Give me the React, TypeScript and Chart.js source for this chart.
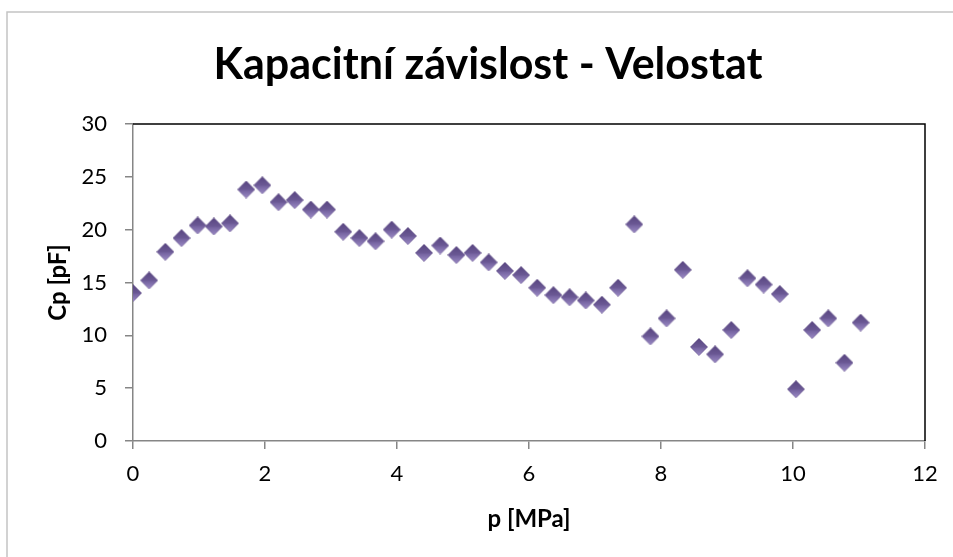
import { useEffect, useRef } from 'react';
import { Chart, registerables } from 'chart.js';

Chart.register(...registerables);

const TITLE = 'Kapacitní závislost - Velostat';
const X_TITLE = 'p [MPa]';
const Y_TITLE = 'Cp [pF]';

const pressure = [
  0, 0.245, 0.49, 0.735, 0.98, 1.225, 1.47, 1.715, 1.96, 2.205, 2.45, 2.695,
  2.94, 3.185, 3.43, 3.675, 3.92, 4.165, 4.41, 4.655, 4.9, 5.145, 5.39, 5.635,
  5.88, 6.125, 6.37, 6.615, 6.86, 7.105, 7.35, 7.595, 7.84, 8.085, 8.33, 8.575,
  8.82, 9.065, 9.31, 9.555, 9.8, 10.045, 10.29, 10.535, 10.78, 11.025,
];

const capacitance = [
  14.0, 15.2, 17.9, 19.2, 20.4, 20.3, 20.6, 23.8, 24.2, 22.6, 22.8, 21.9,
  21.9, 19.8, 19.2, 18.9, 20.0, 19.4, 17.8, 18.5, 17.6, 17.8, 16.9, 16.1,
  15.7, 14.5, 13.8, 13.6, 13.3, 12.9, 14.5, 20.5, 9.9, 11.6, 16.2, 8.9,
  8.2, 10.5, 15.4, 14.8, 13.9, 4.9, 10.5, 11.6, 7.4, 11.2,
];

const X_MIN = 0;
const X_MAX = 12;
const X_STEP = 2;
const Y_MIN = 0;
const Y_MAX = 30;
const Y_STEP = 5;

const W = 953;
const H = 557;

export default function App() {
  const ref = useRef<HTMLCanvasElement>(null);

  useEffect(() => {
    if (!ref.current) return;

    // diamond marker with purple gradient
    const S = 18;
    const marker = document.createElement('canvas');
    marker.width = S;
    marker.height = S;
    const m = marker.getContext('2d')!;
    const g = m.createLinearGradient(0, 0, 0, S);
    g.addColorStop(0, '#57447f');
    g.addColorStop(0.5, '#6b5995');
    g.addColorStop(0.56, '#7664a1');
    g.addColorStop(1, '#9d8dc7');
    m.beginPath();
    m.moveTo(S / 2, 0.3);
    m.lineTo(S - 0.3, S / 2);
    m.lineTo(S / 2, S - 0.3);
    m.lineTo(0.3, S / 2);
    m.closePath();
    m.fillStyle = g;
    m.fill();
    m.strokeStyle = 'rgba(80,62,120,0.6)';
    m.lineWidth = 0.6;
    m.stroke();

    const framePlugin = {
      id: 'frame',
      beforeDraw(chart: any) {
        const ctx = chart.ctx;
        ctx.save();
        ctx.fillStyle = '#ffffff';
        ctx.fillRect(0, 0, W, H);
        ctx.strokeStyle = '#c4c4c4';
        ctx.lineWidth = 1.5;
        ctx.strokeRect(7, 12, 1000, 1000);
        ctx.fillStyle = '#000000';
        ctx.font = 'bold 43px Lato';
        ctx.textAlign = 'center';
        ctx.textBaseline = 'alphabetic';
        ctx.fillText(TITLE, 488, 79);
        ctx.restore();
      },
      beforeDatasetsDraw(chart: any) {
        const ctx = chart.ctx;
        const { left, right, top, bottom } = chart.chartArea;
        ctx.save();
        ctx.strokeStyle = '#000000';
        ctx.lineWidth = 1.5;
        ctx.beginPath();
        ctx.moveTo(left, top);
        ctx.lineTo(right, top);
        ctx.lineTo(right, bottom);
        ctx.stroke();
        ctx.restore();
      },
    };

    const points = pressure.map((p, i) => ({ x: p, y: capacitance[i] }));

    const axisGray = '#868686';
    const chart = new Chart(ref.current, {
      type: 'scatter',
      data: {
        datasets: [
          {
            label: 'Cp',
            data: points,
            pointStyle: marker as any,
            pointRadius: 9,
            pointHoverRadius: 9,
            showLine: false,
          },
        ],
      },
      options: {
        animation: false,
        responsive: false,
        events: [],
        layout: { padding: { top: 124, right: 28, left: 0, bottom: 0 } },
        plugins: {
          legend: { display: false },
          tooltip: { enabled: false },
          title: { display: false },
        },
        scales: {
          x: {
            type: 'linear',
            min: X_MIN,
            max: X_MAX,
            afterFit(scale: any) {
              scale.height = 116;
            },
            ticks: {
              stepSize: X_STEP,
              color: '#000000',
              font: { family: 'Lato', size: 22 },
              padding: 12,
            },
            grid: {
              drawOnChartArea: false,
              drawTicks: true,
              tickLength: 8,
              color: axisGray,
              lineWidth: 1.5,
            },
            border: { display: true, color: axisGray, width: 1.5 },
            title: {
              display: true,
              text: X_TITLE,
              color: '#000000',
              font: { family: 'Lato', size: 24, weight: 'bold' },
              padding: { top: 0, bottom: 23 },
            },
          },
          y: {
            type: 'linear',
            min: Y_MIN,
            max: Y_MAX,
            afterFit(scale: any) {
              scale.width = 133;
            },
            ticks: {
              stepSize: Y_STEP,
              color: '#000000',
              font: { family: 'Lato', size: 22 },
              padding: 18,
            },
            grid: {
              drawOnChartArea: false,
              drawTicks: true,
              tickLength: 8,
              color: axisGray,
              lineWidth: 1.5,
            },
            border: { display: true, color: axisGray, width: 1.5 },
            title: {
              display: true,
              text: Y_TITLE,
              color: '#000000',
              font: { family: 'Lato', size: 24, weight: 'bold' },
              padding: { top: 44, bottom: 0 },
            },
          },
        },
      },
      plugins: [framePlugin],
    });

    return () => chart.destroy();
  }, []);

  return (
    <div style={{ position: 'absolute', left: 0, top: 0, width: W, height: H, background: '#fff' }}>
      <canvas ref={ref} width={W} height={H} style={{ display: 'block' }} />
    </div>
  );
}
